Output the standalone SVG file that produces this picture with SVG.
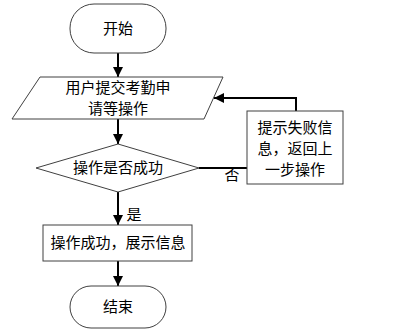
<svg xmlns="http://www.w3.org/2000/svg" width="393" height="336" viewBox="0 0 393 336">
<style>
.shape{fill:#fff;stroke:#404040;stroke-width:1}
.t{font-family:"Liberation Sans","Noto Sans CJK SC",sans-serif;font-size:15px;fill:#000;text-anchor:middle}
.c{fill:none;stroke:#000;stroke-width:2}
</style>
<defs>
<marker id="ah" viewBox="0 0 10 10" refX="10" refY="5" markerWidth="5" markerHeight="5" orient="auto" markerUnits="strokeWidth">
<path d="M0,0 L10,5 L0,10 Z" fill="#000"/>
</marker>
</defs>
<g id="connectors">
<line class="c" x1="118" y1="53" x2="118" y2="77" marker-end="url(#ah)"/>
<line class="c" x1="118" y1="119" x2="118" y2="144" marker-end="url(#ah)"/>
<line class="c" x1="199" y1="168" x2="247" y2="168"/>
<polyline class="c" points="296,111 296,98 214,98" marker-end="url(#ah)"/>
<line class="c" x1="118" y1="192" x2="118" y2="225" marker-end="url(#ah)"/>
<line class="c" x1="118" y1="261" x2="118" y2="286" marker-end="url(#ah)"/>
<text class="t" x="232" y="180">否</text>
<text class="t" x="134" y="220">是</text>
</g>
<g id="start">
<rect class="shape" x="70" y="4" width="96" height="49" rx="24" ry="24"/>
<text class="t" x="118" y="34">开始</text>
</g>
<g id="input">
<polygon class="shape" points="40,77 223,77 204,119 12,119"/>
<text class="t" x="118" y="93">用户提交考勤申</text>
<text class="t" x="118" y="114">请等操作</text>
</g>
<g id="decision">
<polygon class="shape" points="118,144 199,168 118,192 36,168"/>
<text class="t" x="118" y="173">操作是否成功</text>
</g>
<g id="fail">
<rect class="shape" x="247" y="111" width="96" height="73"/>
<text class="t" x="295" y="133">提示失败信</text>
<text class="t" x="295" y="154">息，返回上</text>
<text class="t" x="295" y="175">一步操作</text>
</g>
<g id="success">
<rect class="shape" x="43" y="225" width="149" height="36"/>
<text class="t" x="118" y="248">操作成功，展示信息</text>
</g>
<g id="end">
<rect class="shape" x="70" y="286" width="96" height="42" rx="21" ry="21"/>
<text class="t" x="118" y="312">结束</text>
</g>
</svg>
